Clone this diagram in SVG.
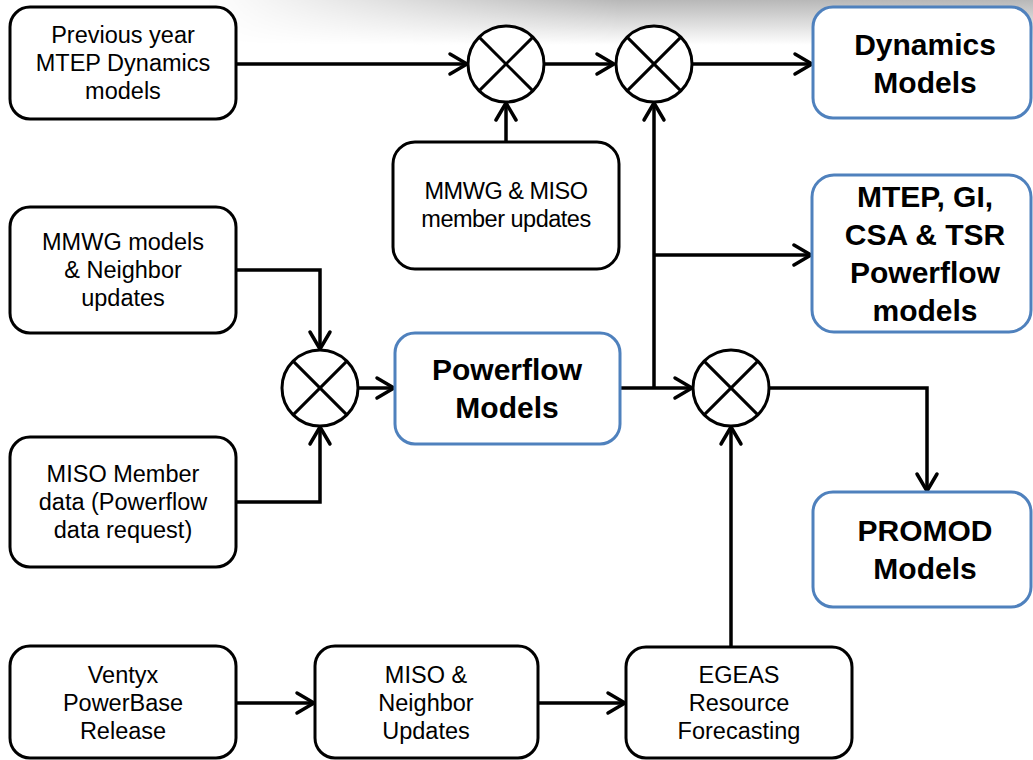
<svg xmlns="http://www.w3.org/2000/svg" width="1033" height="760" viewBox="0 0 1033 760">
<style>
.box{fill:#fff;stroke:#000;stroke-width:3}
.out{fill:#fff;stroke:#4F81BD;stroke-width:3}
.t{font-family:"Liberation Sans",Arial,sans-serif;font-size:23.5px;fill:#000;text-anchor:middle}
.tb{font-family:"Liberation Sans",Arial,sans-serif;font-size:30px;font-weight:bold;fill:#000;text-anchor:middle}
.mix circle{fill:#fff;stroke:#000;stroke-width:3}
.mix line{stroke:#000;stroke-width:3}
.c{fill:none;stroke:#000;stroke-width:3.5;marker-end:url(#ah)}
</style>
<defs>
<marker id="ah" markerUnits="userSpaceOnUse" markerWidth="24" markerHeight="26" viewBox="0 0 24 26" refX="20" refY="13" orient="auto">
<path d="M3,3 L20,13 L3,23" fill="none" stroke="#000" stroke-width="3.5" stroke-linecap="round" stroke-linejoin="round"/>
</marker>
<linearGradient id="sh" x1="0" y1="0" x2="0" y2="1">
<stop offset="0" stop-color="#b8b8b8"/>
<stop offset="1" stop-color="#fff"/>
</linearGradient>
<linearGradient id="shm" x1="0" y1="0" x2="1" y2="0">
<stop offset="0.2" stop-color="#000"/>
<stop offset="0.6" stop-color="#fff"/>
<stop offset="1" stop-color="#fff"/>
</linearGradient>
<mask id="m1"><rect x="0" y="0" width="1033" height="50" fill="url(#shm)"/></mask>
</defs>
<rect width="1033" height="760" fill="#fff"/>
<rect x="0" y="0" width="1033" height="45" fill="url(#sh)" mask="url(#m1)"/>

<g id="connectors">
<path class="c" d="M236,64 H467"/>
<path class="c" d="M544,64 H614"/>
<path class="c" d="M692,64 H812"/>
<path class="c" d="M506,142 V103"/>
<path class="c" d="M620,388 H692"/>
<path class="c" d="M654,388 V103"/>
<path class="c" d="M654,255 H811"/>
<path class="c" d="M236,270 H320 V349"/>
<path class="c" d="M236,502 H320 V427"/>
<path class="c" d="M358,388 H394"/>
<path class="c" d="M769,388 H927 V491"/>
<path class="c" d="M236,703 H314"/>
<path class="c" d="M538,703 H625"/>
<path class="c" d="M731,647 V427"/>
</g>

<g id="n_prev">
<rect class="box" x="10" y="7" width="226" height="112" rx="20"/>
<text class="t" x="123" y="43">Previous year</text>
<text class="t" x="123" y="71">MTEP Dynamics</text>
<text class="t" x="123" y="99">models</text>
</g>
<g id="mix1" class="mix">
<circle cx="506" cy="64" r="38"/>
<line x1="479.1" y1="37.1" x2="532.9" y2="90.9"/>
<line x1="532.9" y1="37.1" x2="479.1" y2="90.9"/>
</g>
<g id="mix2" class="mix">
<circle cx="654" cy="64" r="38"/>
<line x1="627.1" y1="37.1" x2="680.9" y2="90.9"/>
<line x1="680.9" y1="37.1" x2="627.1" y2="90.9"/>
</g>
<g id="n_dyn">
<rect class="out" x="813" y="7" width="218" height="111" rx="20"/>
<text class="tb" x="925" y="55">Dynamics</text>
<text class="tb" x="925" y="93">Models</text>
</g>
<g id="n_mmwgmiso">
<rect class="box" x="393" y="142" width="226" height="127" rx="22"/>
<text class="t" x="506" y="199" letter-spacing="-0.5">MMWG &amp; MISO</text>
<text class="t" x="506" y="227" letter-spacing="-0.5">member updates</text>
</g>
<g id="n_mtep">
<rect class="out" x="812" y="175" width="219" height="157" rx="22"/>
<text class="tb" x="925" y="207">MTEP, GI,</text>
<text class="tb" x="925" y="245">CSA &amp; TSR</text>
<text class="tb" x="925" y="283">Powerflow</text>
<text class="tb" x="925" y="321">models</text>
</g>
<g id="n_mmwgmodels">
<rect class="box" x="10" y="207" width="226" height="126" rx="20"/>
<text class="t" x="123" y="250">MMWG models</text>
<text class="t" x="123" y="278">&amp; Neighbor</text>
<text class="t" x="123" y="306">updates</text>
</g>
<g id="mix3" class="mix">
<circle cx="320" cy="388" r="38"/>
<line x1="293.1" y1="361.1" x2="346.9" y2="414.9"/>
<line x1="346.9" y1="361.1" x2="293.1" y2="414.9"/>
</g>
<g id="n_pf">
<rect class="out" x="395" y="333" width="225" height="111" rx="20"/>
<text class="tb" x="507" y="380">Powerflow</text>
<text class="tb" x="507" y="418">Models</text>
</g>
<g id="mix4" class="mix">
<circle cx="731" cy="388" r="38"/>
<line x1="704.1" y1="361.1" x2="757.9" y2="414.9"/>
<line x1="757.9" y1="361.1" x2="704.1" y2="414.9"/>
</g>
<g id="n_member">
<rect class="box" x="10" y="437" width="226" height="130" rx="20"/>
<text class="t" x="123" y="482">MISO Member</text>
<text class="t" x="123" y="510">data (Powerflow</text>
<text class="t" x="123" y="538">data request)</text>
</g>
<g id="n_promod">
<rect class="out" x="813" y="492" width="218" height="115" rx="20"/>
<text class="tb" x="925" y="541">PROMOD</text>
<text class="tb" x="925" y="579">Models</text>
</g>
<g id="n_ventyx">
<rect class="box" x="10" y="646" width="226" height="112" rx="20"/>
<text class="t" x="123" y="683">Ventyx</text>
<text class="t" x="123" y="711">PowerBase</text>
<text class="t" x="123" y="739">Release</text>
</g>
<g id="n_miso">
<rect class="box" x="315" y="646" width="223" height="112" rx="20"/>
<text class="t" x="426" y="683">MISO &amp;</text>
<text class="t" x="426" y="711">Neighbor</text>
<text class="t" x="426" y="739">Updates</text>
</g>
<g id="n_egeas">
<rect class="box" x="626" y="647" width="226" height="111" rx="20"/>
<text class="t" x="739" y="683">EGEAS</text>
<text class="t" x="739" y="711">Resource</text>
<text class="t" x="739" y="739">Forecasting</text>
</g>
</svg>
